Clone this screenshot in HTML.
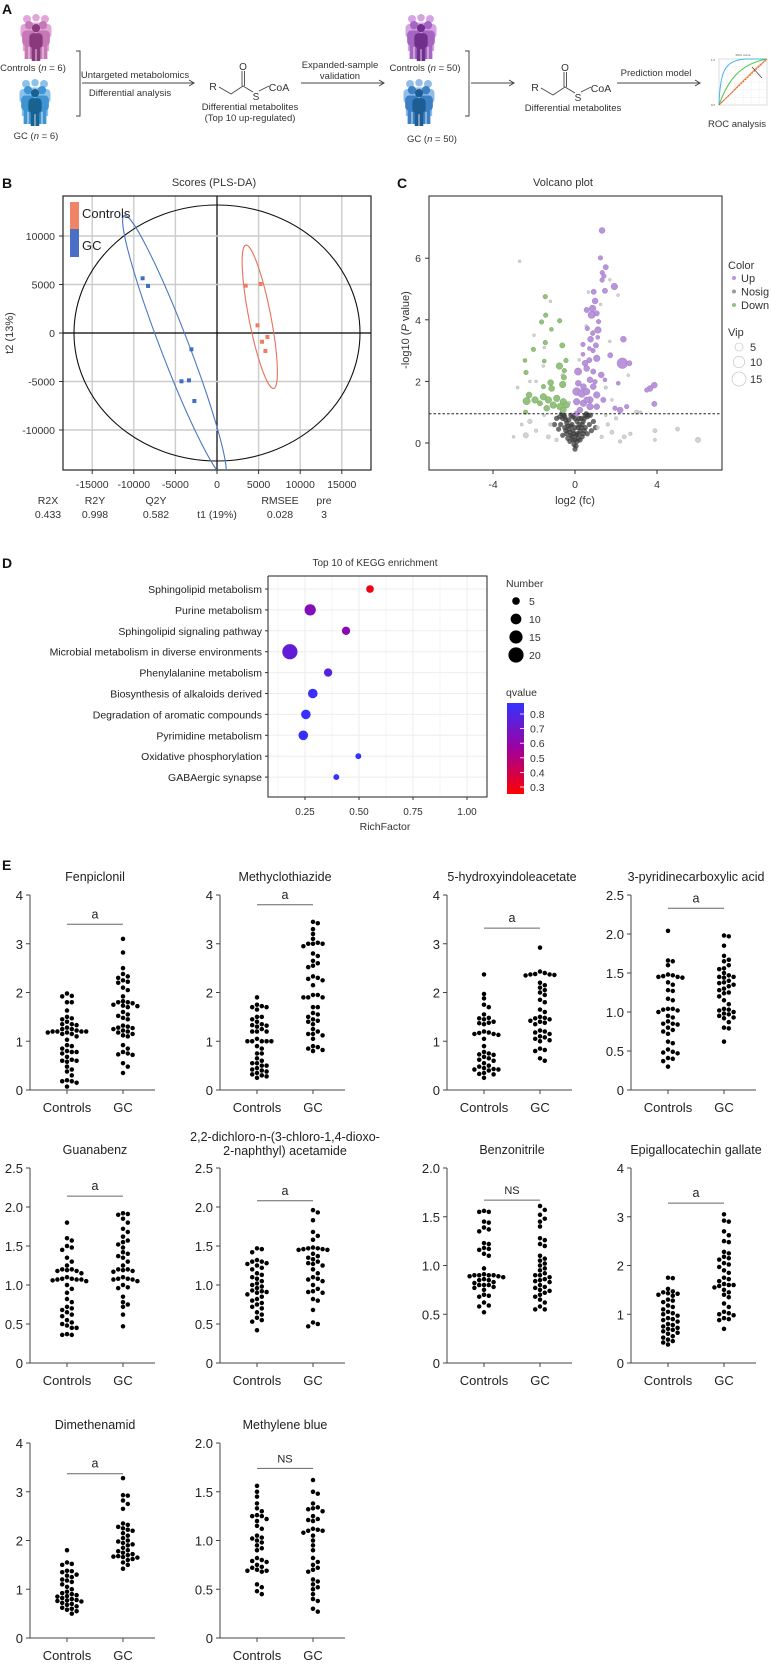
<!DOCTYPE html>
<html><head><meta charset="utf-8">
<style>
html,body{margin:0;padding:0;background:#fff;}
svg{display:block;font-family:"Liberation Sans",sans-serif;}
</style></head>
<body>
<svg id="fig" width="771" height="1665" viewBox="0 0 771 1665" xmlns="http://www.w3.org/2000/svg">
<defs>
<clipPath id="clipB"><rect x="63" y="196" width="308" height="274"/></clipPath>
<clipPath id="clipC"><rect x="429" y="196" width="293" height="274"/></clipPath>
<linearGradient id="qgrad" x1="0" y1="1" x2="0" y2="0">
<stop offset="0" stop-color="#ff0000"/><stop offset="0.5" stop-color="#a0009f"/><stop offset="1" stop-color="#3333ff"/>
</linearGradient>
</defs>
</svg>
<script>
// ===== Panel B data =====
const t1Ticks=[-15000,-10000,-5000,0,5000,10000,15000];
const t2Ticks=[-10000,-5000,0,5000,10000];
const controlsT1=[3450,5230,4870,6060,5410,5820];
const controlsT2=[4880,5050,790,-410,-900,-1860];
const gcT1=[-8940,-8290,-3080,-4270,-3370,-2720];
const gcT2=[5640,4850,-1680,-4980,-4880,-7010];
const statNames=["R2X","R2Y","Q2Y","RMSEE","pre"];
const statValues=["0.433","0.998","0.582","0.028","3"];
// ===== Panel C data =====
const volXTicks=[-4,0,4];
const volYTicks=[0,2,4,6];
const upX=[1.32,1.24,1.50,1.33,1.41,1.32,1.92,0.91,1.46,0.98,0.57,0.86,0.81,1.06,1.15,0.60,1.12,0.86,1.11,0.76,2.36,0.39,1.02,0.70,0.88,1.72,0.39,1.06,0.70,0.49,2.31,2.65,0.15,0.57,0.89,1.28,0.73,0.98,1.46,2.11,0.41,0.08,0.33,0.57,0.73,1.06,0.08,0.41,0.73,1.06,0.24,0.08,3.87,3.66,3.50,3.87,1.95,2.20,2.52,1.38,0.16,0.89,0.57];
const upY=[6.90,6.01,5.71,5.53,5.42,5.29,5.08,4.91,4.94,4.61,4.32,4.37,4.16,4.21,3.94,3.72,3.67,3.56,3.43,3.37,3.37,3.20,3.17,3.07,3.00,2.85,2.88,2.75,2.69,2.59,2.59,2.59,2.32,2.42,2.32,2.21,2.05,1.99,2.05,1.94,1.83,1.67,1.61,1.67,1.40,1.56,1.34,1.29,1.18,1.18,1.07,0.96,1.88,1.77,1.72,1.27,1.13,1.07,1.18,1.40,1.94,1.83,1.40];
const upVip=[4,2.4,3.2,2.4,2.4,2.4,4.9,3.2,3.2,4,3.2,4.9,6,3.2,2.4,2.4,4.9,2.4,1.8,4,4,2.4,3.2,1.8,2.4,3.2,1.8,4.9,3.2,4,12.6,3.2,6,4,3.2,4,4,2.4,1.8,1.8,4,7.1,7.1,4.9,4.9,4.9,4.9,4.9,4.9,4,4,3.2,4,4,2.4,3.2,2.4,4,2.4,3.2,4,4,4];
const downX=[-1.45,-1.43,-1.63,-0.75,-1.15,-1.45,-0.62,-2.03,-2.44,-1.50,-0.44,-0.76,-0.52,-2.39,-0.54,-1.19,-0.60,-1.54,-1.14,-2.24,-2.36,-1.95,-1.54,-1.30,-0.89,-0.57,-1.06,-0.73,-0.41,-1.71,-2.41,-1.38,-0.57];
const downY=[4.75,4.15,3.93,3.97,3.69,3.26,3.17,3.04,2.68,2.66,2.68,2.50,2.35,2.29,2.13,1.96,1.90,1.83,1.77,1.56,1.36,1.40,1.50,1.40,1.45,1.34,1.23,1.18,1.23,1.29,1.00,1.13,1.07];
const downVip=[2.4,2.4,2.4,2.4,1.8,2.4,3.2,2.4,1.8,1.8,2.4,4.9,2.4,2.4,3.2,4,4.9,2.4,4,4,6,4.9,4.9,4.9,4.9,4.9,4.9,4.9,4,3.2,2.4,4,4];
const nosigX=[0,0.05,-0.05,0.1,-0.1,0.15,-0.15,0.2,-0.2,0.25,-0.25,0.3,-0.3,0.35,-0.35,0.4,-0.4,0.45,-0.45,0.5,-0.5,0.55,-0.55,0.6,-0.6,0.65,-0.65,0.1,-0.1,0.2,-0.2,0.3,-0.3,0.15,-0.15,0.4,-0.4,0.5,-0.5,0.7,-0.7,0.8,-0.8,0.25,-0.25,0,0.05,-0.05,0.35,-0.35,0.9,-0.9,0.45,-0.45,0.6,-0.6,0.75,-0.75,1.0,-1.0,0.2,-0.2,0.1,-0.1,0,0,
-2.2,-2.4,-2.6,-3.0,-1.5,-1.9,-1.2,-1.3,1.6,1.8,2.0,2.4,2.7,3.0,3.9,3.9,5.0,6.0,1.3,1.1,-0.9,2.2,1.5,-2.7,-1.2,-2.0,-1.5,-1.55,2.1,1.7,1.25,0.65,0.55,1.7,2.6,-1.9,-2.2,1.8,0.9,-0.3,0.2,1.5,-0.6,3.2,-2.8];
const nosigY=[-0.2,-0.1,-0.05,0.05,0.1,0.15,0.2,0.3,0.25,0.4,0.35,0.5,0.45,0.6,0.55,0.7,0.65,0.8,0.75,0.9,0.85,0.95,0.9,0.85,0.8,0.9,0.95,0.3,0.4,0.6,0.55,0.8,0.75,0.5,0.6,0.3,0.3,0.5,0.5,0.6,0.6,0.4,0.45,0.1,0.05,0.1,0.25,0.3,0.2,0.15,0.7,0.8,0.4,0.4,0.3,0.25,0.9,0.85,0.5,0.6,0.8,0.9,0.7,0.85,0.5,0.8,
0.7,0.25,0.6,0.2,0.9,0.4,0.6,0.2,0.6,0.35,0.8,0.2,0.3,1.0,0.4,0.1,0.45,0.1,0.2,0.5,0.1,0.05,0.9,5.9,4.6,3.5,3.1,2.5,4.8,5.3,4.5,4.9,3.8,3.3,2.2,2.0,2.0,1.4,3.6,1.3,2.7,1.8,2.2,1.0,1.8];
const nosigVip=[0.5,0.5,0.5,0.5,0.5,0.5,0.5,0.5,0.5,0.5,0.5,0.5,0.5,0.5,0.5,0.5,0.5,0.5,0.5,0.5,0.5,0.5,0.5,0.5,0.5,0.5,0.5,0.5,0.5,0.5,0.5,0.5,0.5,0.5,0.5,0.5,0.5,0.5,0.5,0.5,0.5,0.5,0.5,0.5,0.5,0.5,0.5,0.5,0.5,0.5,0.5,0.5,0.5,0.5,0.5,0.5,0.5,0.5,0.5,0.5,0.5,0.5,0.5,0.5,0.5,0.5,
2.4,3.2,1.2,1,1,1.5,1.5,2,1.5,2,1.5,2,1.5,2.4,2,1.2,2,3.2,1.5,1.5,1.5,1.5,1,1,1,1,1,1,1,1,1,1,1,1,1,1,1,1,1.5,1.5,1,1.5,1.5,1,1.2];
const vipLegend=[5,10,15];
const colorLegend=["Up","Nosig","Down"];
// ===== Panel D data =====
const pathways=["Sphingolipid metabolism","Purine metabolism","Sphingolipid signaling pathway","Microbial metabolism in diverse environments","Phenylalanine metabolism","Biosynthesis of alkaloids derived","Degradation of aromatic compounds","Pyrimidine metabolism","Oxidative phosphorylation","GABAergic synapse"];
const richFactor=[0.551,0.274,0.44,0.18,0.357,0.286,0.254,0.242,0.497,0.395];
const pathNumber=[5,11,6,20,6,8,8,8,3,3];
const qvalue=[0.28,0.65,0.62,0.74,0.78,0.85,0.86,0.86,0.88,0.88];
const richTicks=[0.25,0.5,0.75,1.0];
const numberLegend=[5,10,15,20];
const qLegend=[0.3,0.4,0.5,0.6,0.7,0.8];
// ===== Panel E data =====
const metabNames=["Fenpiclonil","Methyclothiazide","5-hydroxyindoleacetate","3-pyridinecarboxylic acid","Guanabenz","2,2-dichloro-n-(3-chloro-1,4-dioxo-|2-naphthyl) acetamide","Benzonitrile","Epigallocatechin gallate","Dimethenamid","Methylene blue"];
const metabMax=[4,4,4,2.5,2.5,2.5,2,4,4,2];
const sigLabels=["a","a","a","a","a","a","NS","a","a","NS"];
const sigLevels=[3.4,3.8,3.32,2.33,2.14,2.08,1.67,3.28,3.37,1.74];
const groupNames=["Controls","GC"];
const ctrlVals=[
[1.98,1.93,1.92,1.8,1.8,1.63,1.5,1.47,1.45,1.4,1.35,1.35,1.33,1.28,1.25,1.25,1.22,1.2,1.2,1.2,1.2,1.18,1.18,1.15,1.15,1.1,1.03,0.92,0.9,0.85,0.8,0.78,0.78,0.75,0.68,0.62,0.6,0.6,0.58,0.48,0.42,0.38,0.3,0.2,0.18,0.18,0.15,0.07],
[1.9,1.75,1.72,1.7,1.7,1.65,1.5,1.5,1.45,1.4,1.35,1.33,1.32,1.3,1.25,1.2,1.2,1.2,1.05,1.0,1.0,1.0,1.0,1.0,0.9,0.85,0.75,0.75,0.65,0.6,0.55,0.55,0.5,0.5,0.45,0.42,0.4,0.38,0.35,0.32,0.3,0.28,0.25],
[2.37,1.97,1.88,1.75,1.7,1.55,1.48,1.47,1.45,1.4,1.38,1.37,1.35,1.2,1.18,1.17,1.15,1.15,1.13,1.05,0.9,0.78,0.75,0.73,0.72,0.68,0.65,0.62,0.6,0.55,0.5,0.48,0.45,0.43,0.42,0.42,0.4,0.35,0.33,0.32,0.25],
[2.04,1.66,1.65,1.6,1.48,1.47,1.46,1.45,1.45,1.44,1.38,1.35,1.28,1.27,1.17,1.15,1.04,1.04,1.03,1.02,1.0,0.95,0.93,0.88,0.85,0.85,0.84,0.8,0.77,0.75,0.72,0.62,0.6,0.52,0.49,0.48,0.47,0.41,0.4,0.37,0.3],
[1.8,1.6,1.57,1.5,1.48,1.45,1.35,1.3,1.25,1.2,1.2,1.19,1.18,1.18,1.15,1.1,1.08,1.08,1.07,1.07,1.07,1.06,1.05,1.0,0.95,0.9,0.82,0.78,0.72,0.7,0.68,0.65,0.62,0.6,0.55,0.52,0.5,0.48,0.45,0.45,0.37,0.36,0.36],
[1.47,1.46,1.42,1.32,1.3,1.3,1.28,1.27,1.25,1.22,1.2,1.15,1.13,1.1,1.08,1.05,1.02,1.0,0.98,0.96,0.93,0.92,0.91,0.9,0.88,0.85,0.82,0.8,0.77,0.75,0.72,0.7,0.65,0.62,0.58,0.55,0.53,0.42],
[1.56,1.55,1.55,1.45,1.44,1.39,1.37,1.35,1.23,1.22,1.18,1.17,1.16,1.12,1.1,0.97,0.91,0.9,0.9,0.9,0.9,0.89,0.89,0.88,0.86,0.85,0.85,0.83,0.82,0.8,0.8,0.8,0.78,0.77,0.75,0.7,0.69,0.68,0.62,0.59,0.58,0.52],
[1.75,1.74,1.52,1.47,1.45,1.43,1.42,1.4,1.38,1.3,1.28,1.25,1.18,1.15,1.1,1.05,1.02,1.0,0.97,0.92,0.9,0.88,0.85,0.8,0.78,0.75,0.72,0.7,0.68,0.65,0.62,0.6,0.55,0.52,0.48,0.45,0.42,0.38],
[1.8,1.55,1.52,1.5,1.38,1.37,1.35,1.3,1.28,1.25,1.2,1.18,1.15,1.1,1.05,1.0,0.95,0.92,0.9,0.88,0.86,0.85,0.82,0.8,0.78,0.77,0.76,0.75,0.72,0.7,0.68,0.65,0.62,0.6,0.58,0.55,0.5],
[1.56,1.5,1.45,1.38,1.33,1.3,1.26,1.25,1.25,1.22,1.2,1.15,1.12,1.05,1.03,1.02,1.0,0.98,0.95,0.92,0.9,0.82,0.8,0.79,0.78,0.75,0.73,0.72,0.7,0.69,0.69,0.68,0.55,0.52,0.48,0.45]];
const gcVals=[
[3.1,2.82,2.5,2.38,2.33,2.3,2.25,2.22,2.2,2.1,2.05,1.92,1.82,1.8,1.8,1.78,1.75,1.73,1.72,1.7,1.6,1.55,1.52,1.48,1.45,1.32,1.3,1.28,1.27,1.25,1.22,1.2,1.18,1.15,1.12,1.1,0.92,0.85,0.78,0.75,0.73,0.72,0.55,0.48,0.35],
[3.45,3.42,3.3,3.2,3.1,3.02,3.0,3.0,3.0,2.95,2.8,2.75,2.65,2.6,2.55,2.52,2.33,2.3,2.28,2.25,2.15,1.95,1.95,1.9,1.9,1.9,1.7,1.7,1.58,1.55,1.5,1.45,1.42,1.4,1.35,1.25,1.2,1.15,1.15,1.12,1.05,0.9,0.88,0.85,0.82,0.8],
[2.92,2.43,2.4,2.38,2.37,2.37,2.36,2.35,2.2,2.15,2.1,2.05,2.0,1.95,1.85,1.8,1.65,1.6,1.5,1.48,1.47,1.45,1.42,1.4,1.38,1.35,1.22,1.2,1.18,1.15,1.1,1.08,1.05,1.02,1.0,0.85,0.82,0.8,0.65,0.6],
[1.98,1.97,1.85,1.72,1.67,1.65,1.6,1.56,1.55,1.5,1.47,1.45,1.45,1.44,1.4,1.38,1.37,1.35,1.33,1.3,1.28,1.25,1.24,1.2,1.15,1.1,1.04,1.03,1.02,1.0,0.98,0.97,0.95,0.93,0.92,0.87,0.8,0.79,0.62],
[1.92,1.91,1.9,1.85,1.8,1.72,1.68,1.62,1.57,1.55,1.52,1.48,1.42,1.4,1.37,1.35,1.3,1.25,1.2,1.2,1.19,1.18,1.17,1.1,1.08,1.08,1.07,1.07,1.05,1.0,0.97,0.96,0.85,0.78,0.75,0.72,0.62,0.47],
[1.96,1.93,1.83,1.68,1.63,1.58,1.48,1.47,1.47,1.46,1.46,1.45,1.45,1.4,1.37,1.35,1.33,1.3,1.28,1.27,1.25,1.2,1.15,1.1,1.08,1.07,1.05,1.0,0.95,0.92,0.91,0.9,0.82,0.8,0.68,0.52,0.5,0.47],
[1.61,1.57,1.52,1.48,1.45,1.4,1.28,1.26,1.22,1.2,1.1,1.07,1.05,1.02,1.0,0.97,0.95,0.92,0.9,0.9,0.88,0.86,0.85,0.84,0.83,0.8,0.78,0.77,0.75,0.74,0.72,0.7,0.68,0.65,0.62,0.58,0.55,0.55],
[3.05,2.92,2.9,2.7,2.62,2.5,2.48,2.28,2.25,2.18,2.15,2.12,2.05,2.02,1.97,1.9,1.85,1.75,1.72,1.68,1.62,1.6,1.6,1.58,1.55,1.5,1.45,1.4,1.35,1.22,1.15,1.05,1.02,1.0,0.98,0.92,0.9,0.88,0.7],
[3.28,2.93,2.92,2.82,2.75,2.65,2.35,2.32,2.28,2.25,2.22,2.2,2.15,2.1,2.05,2.0,1.98,1.95,1.92,1.9,1.85,1.8,1.78,1.75,1.72,1.7,1.68,1.67,1.66,1.65,1.62,1.6,1.55,1.5,1.42],
[1.62,1.5,1.48,1.38,1.34,1.33,1.32,1.3,1.25,1.22,1.21,1.2,1.12,1.11,1.1,1.1,1.08,1.05,1.0,0.95,0.9,0.82,0.78,0.75,0.72,0.7,0.68,0.6,0.58,0.55,0.52,0.5,0.45,0.4,0.38,0.3,0.27]];

const NS="http://www.w3.org/2000/svg";
const svg=document.getElementById('fig');
function mk(tag,attrs,parent){const e=document.createElementNS(NS,tag);for(const k in attrs)e.setAttribute(k,attrs[k]);(parent||svg).appendChild(e);return e;}
function tx(x,y,s,size,anchor,parent,extra){const e=mk('text',Object.assign({x:x,y:y,'font-size':size,'text-anchor':anchor||'start',fill:'#222'},extra||{}),parent);e.textContent=s;return e;}
function grp(parent){return mk('g',{},parent);}

// ================= PANEL A =================
const gA=grp();


let e=tx(2,14,"A",14,'start',gA,{'font-weight':'bold',fill:'#111'});


function person(x,y,h,color,parent){
  const g=grp(parent);
  const w=h*0.36;
  mk('circle',{cx:x,cy:y+h*0.11,r:h*0.11,fill:color},g);
  mk('rect',{x:x-w/2,y:y+h*0.25,width:w,height:h*0.4,rx:w*0.3,fill:color},g);
  mk('rect',{x:x-w*0.32,y:y+h*0.55,width:w*0.64,height:h*0.45,fill:color},g);
  mk('line',{x1:x,y1:y+h*0.68,x2:x,y2:y+h,stroke:'#fff','stroke-width':0.8},g);
  return g;
}
function crowd(cx,top,cols,parent,name){
  const g=grp(parent);
  
  
  person(cx-9,top,36,cols[0],g);person(cx+9,top,36,cols[0],g);person(cx,top-1,34,cols[0],g);
  person(cx-7,top+6,38,cols[1],g);person(cx+7,top+6,38,cols[1],g);
  person(cx,top+9,37,cols[2],g);
}
crowd(36,15,['#e2a6d8','#c577b6','#8a3a7c'],gA,'controls-6-icon');
crowd(35,80,['#8cc2ea','#3f95d3','#17628f'],gA,'gc-6-icon');
crowd(421,15,['#d6a3e4','#a565c2','#6f2f8a'],gA,'controls-50-icon');
crowd(419,80,['#93bde6','#3b80c4','#1e5d93'],gA,'gc-50-icon');
function itxt(x,y,s,name,size){const t=tx(x,y,s,size||9.5,'middle',gA,{fill:'#333'});return t;}
function ital(x,y,pre,n,name){const t=mk('text',{x:x,y:y,'font-size':9.5,'text-anchor':'middle',fill:'#333'},gA);t.appendChild(document.createTextNode(pre+' ('));const s=mk('tspan',{'font-style':'italic'},t);s.textContent='n';t.appendChild(document.createTextNode(' = '+n+')'));}
ital(33,71,'Controls',6,'controls-n6-label');
ital(36,139,'GC',6,'gc-n6-label');
ital(425,71,'Controls',50,'controls-n50-label');
ital(432,142,'GC',50,'gc-n50-label');
function bracket(x,name){const p=mk('path',{d:`M${x-4} 51 H${x} V116 H${x-4}`,stroke:'#444',fill:'none','stroke-width':1},gA);}
bracket(80,'bracket-1');bracket(469,'bracket-2');
function arrow(x1,x2,y,name){const g=grp(gA);mk('line',{x1:x1,y1:y,x2:x2,y2:y,stroke:'#444','stroke-width':1},g);mk('path',{d:`M${x2-5} ${y-3} L${x2} ${y} L${x2-5} ${y+3}`,stroke:'#444',fill:'none','stroke-width':1},g);}
arrow(82,194,83,'arrow-untargeted');arrow(301,384,83,'arrow-validation');arrow(471,514,83,'arrow-to-metabolites');arrow(617,700,83,'arrow-prediction');
itxt(135,78,'Untargeted metabolomics','untargeted-label');
itxt(130,96,'Differential analysis','differential-analysis-label');
itxt(340,68,'Expanded-sample','expanded-sample-label');
itxt(340,79,'validation','validation-label');
itxt(656,76,'Prediction model','prediction-model-label');
function structure(dx,dy,name){
  const g=grp(gA);
  tx(213+dx,90+dy,'R',10.5,'middle',g,{fill:'#333'});
  mk('polyline',{points:`${219+dx},${87+dy} ${231+dx},${94+dy} ${243+dx},${86+dy} ${253+dx},${92+dy}`,fill:'none',stroke:'#444','stroke-width':0.9},g);
  mk('line',{x1:242+dx,y1:86+dy,x2:242+dx,y2:71+dy,stroke:'#444','stroke-width':0.9},g);
  mk('line',{x1:244.5+dx,y1:86+dy,x2:244.5+dx,y2:71+dy,stroke:'#444','stroke-width':0.9},g);
  tx(243+dx,70+dy,'O',10,'middle',g,{fill:'#333'});
  tx(256+dx,100+dy,'S',10,'middle',g,{fill:'#333'});
  mk('line',{x1:259+dx,y1:91+dy,x2:269+dx,y2:86+dy,stroke:'#444','stroke-width':0.9},g);
  tx(279+dx,91+dy,'CoA',10.5,'middle',g,{fill:'#333'});
}
structure(0,0,'acyl-coa-structure-1');structure(322,1,'acyl-coa-structure-2');
itxt(250,110,'Differential metabolites','differential-metabolites-label-1');
itxt(250,121,'(Top 10 up-regulated)','top10-label');
itxt(573,111,'Differential metabolites','differential-metabolites-label-2');
const gR=grp(gA);
mk('rect',{x:719,y:59,width:48,height:46,fill:'#fff',stroke:'#bbb','stroke-width':0.5},gR);
for(let i=1;i<6;i++){mk('line',{x1:719+i*8,y1:59,x2:719+i*8,y2:105,stroke:'#eee','stroke-width':0.5},gR);mk('line',{x1:719,y1:59+i*7.7,x2:767,y2:59+i*7.7,stroke:'#eee','stroke-width':0.5},gR);}
mk('path',{d:'M719 105 C720 70 725 61 745 59 L767 59',stroke:'#46b4ea',fill:'none','stroke-width':1},gR);
mk('path',{d:'M719 105 C728 80 740 64 767 59',stroke:'#4fc34f',fill:'none','stroke-width':1},gR);
mk('path',{d:'M719 105 C735 90 752 70 767 59',stroke:'#f2a23a',fill:'none','stroke-width':1},gR);
mk('line',{x1:719,y1:105,x2:767,y2:59,stroke:'#e04040','stroke-width':0.8,'stroke-dasharray':'2,1'},gR);
mk('line',{x1:752,y1:67,x2:762,y2:78,stroke:'#333','stroke-width':0.6},gR);
tx(743,56,'ROC curve',3,'middle',gR,{fill:'#555'});
tx(715,61,'1.0',3,'end',gR,{fill:'#555'});
tx(715,106,'0.0',3,'end',gR,{fill:'#555'});
itxt(737,127,'ROC analysis','roc-analysis-label');

// ================= PANEL B =================
const gB=grp();
e=tx(2,188,"B",14,'start',gB,{'font-weight':'bold',fill:'#111'});
e=tx(214,186,"Scores (PLS-DA)",11,'middle',gB,{fill:'#333'});
const bx=v=>217+v*41.6/5000, by=v=>333-v*48.5/5000;
t1Ticks.forEach(v=>{const l=mk('line',{x1:bx(v),y1:196,x2:bx(v),y2:470,stroke:v===0?'#000':'#ccc','stroke-width':v===0?1.2:1.4},gB);
 mk('line',{x1:bx(v),y1:470,x2:bx(v),y2:474,stroke:'#333'},gB);
 const t=tx(bx(v),488,String(v),10.5,'middle',gB,{fill:'#333'});});
t2Ticks.forEach(v=>{const l=mk('line',{x1:63,y1:by(v),x2:371,y2:by(v),stroke:v===0?'#000':'#ccc','stroke-width':v===0?1.2:1.4},gB);
 mk('line',{x1:59,y1:by(v),x2:63,y2:by(v),stroke:'#333'},gB);
 const t=tx(55,by(v)+4,String(v),10.5,'end',gB,{fill:'#333'});});
e=mk('rect',{x:63,y:196,width:308,height:274,fill:'none',stroke:'#222','stroke-width':1.2},gB);
const gBc=mk('g',{'clip-path':'url(#clipB)'},gB);
e=mk('ellipse',{cx:bx(0),cy:by(0),rx:143,ry:128,fill:'none',stroke:'#111','stroke-width':1.1},gBc);
function mean(a){return a.reduce((s,v)=>s+v,0)/a.length;}
e=mk('ellipse',{cx:0,cy:0,rx:140,ry:14,fill:'none',stroke:'#4a78c2','stroke-width':1.1,transform:`translate(${bx(mean(gcT1))},${by(mean(gcT2))}) rotate(69)`},gBc);
e=mk('ellipse',{cx:0,cy:0,rx:73,ry:11,fill:'none',stroke:'#e8705a','stroke-width':1.1,transform:`translate(${bx(mean(controlsT1))},${by(mean(controlsT2))-4}) rotate(79)`},gBc);
controlsT1.forEach((v,i)=>{const r=mk('rect',{x:bx(v)-2,y:by(controlsT2[i])-2,width:4,height:4,fill:'#ee7b63'},gB);});
gcT1.forEach((v,i)=>{const r=mk('rect',{x:bx(v)-2,y:by(gcT2[i])-2,width:4,height:4,fill:'#3d6fc0'},gB);});
e=mk('rect',{x:70,y:202,width:9,height:27,fill:'#f08466'},gB);
e=mk('rect',{x:70,y:229,width:9,height:28,fill:'#4a6fc4'},gB);
e=tx(82,218,'Controls',13,'start',gB,{fill:'#222'});
e=tx(82,250,'GC',13,'start',gB,{fill:'#222'});
e=tx(0,0,'t2 (13%)',11,'middle',gB,{fill:'#333',transform:'translate(13,333) rotate(-90)'});
const statX=[48,95,156,280,324];
statNames.forEach((n,i)=>{let t=tx(statX[i],504,n,10.5,'middle',gB,{fill:'#333'});
 t=tx(statX[i],518,statValues[i],10.5,'middle',gB,{fill:'#333'});});
e=tx(217,518,'t1 (19%)',10.5,'middle',gB,{fill:'#333'});

// ================= PANEL C =================
const gC=grp();
e=tx(397,188,"C",14,'start',gC,{'font-weight':'bold',fill:'#111'});
e=tx(563,186,"Volcano plot",11,'middle',gC,{fill:'#333'});
const cx=v=>575+v*20.5, cy=v=>443-v*30.8;
const gCc=mk('g',{'clip-path':'url(#clipC)'},gC);
const rv=v=>Math.max(1.1,1.5*Math.sqrt(v));
nosigX.forEach((v,i)=>{const dark=nosigVip[i]<1;const c=mk('circle',{cx:cx(v),cy:cy(nosigY[i]),r:dark?2.6:rv(nosigVip[i]),fill:dark?'rgba(60,60,60,0.75)':'rgba(200,200,200,0.8)',stroke:dark?'none':'#aaa','stroke-width':0.4},gCc);});
downX.forEach((v,i)=>{const c=mk('circle',{cx:cx(v),cy:cy(downY[i]),r:rv(downVip[i]),fill:'#92c27c',stroke:'#6f9f5c','stroke-width':0.4},gCc);});
upX.forEach((v,i)=>{const c=mk('circle',{cx:cx(v),cy:cy(upY[i]),r:rv(upVip[i]),fill:'#b994da',stroke:'#9b75c2','stroke-width':0.4},gCc);});
e=mk('line',{x1:429,y1:cy(0.95),x2:722,y2:cy(0.95),stroke:'#222','stroke-width':0.9,'stroke-dasharray':'2.5,2'},gC);
e=mk('rect',{x:429,y:196,width:293,height:274,fill:'none',stroke:'#222','stroke-width':1},gC);
volXTicks.forEach(v=>{mk('line',{x1:cx(v),y1:470,x2:cx(v),y2:474,stroke:'#333'},gC);const t=tx(cx(v),488,String(v),10.5,'middle',gC,{fill:'#333'});});
volYTicks.forEach(v=>{mk('line',{x1:425,y1:cy(v),x2:429,y2:cy(v),stroke:'#333'},gC);const t=tx(421,cy(v)+4,String(v),10.5,'end',gC,{fill:'#333'});});
e=tx(575,504,'log2 (fc)',11,'middle',gC,{fill:'#333'});
e=mk('text',{x:0,y:0,'font-size':11,'text-anchor':'middle',fill:'#333',transform:'translate(409,330) rotate(-90)'},gC);
e.appendChild(document.createTextNode('-log10 ('));let ts=mk('tspan',{'font-style':'italic'},e);ts.textContent='P';e.appendChild(document.createTextNode(' value)'));
e=tx(728,269,'Color',11,'start',gC,{fill:'#333'});
const legCols=['#b994da','#9a9a9a','#92c27c'];
colorLegend.forEach((n,i)=>{const y=278+i*13.5;const c=mk('circle',{cx:734,cy:y,r:2,fill:legCols[i]},gC);const t=tx(741,y+4,n,11,'start',gC,{fill:'#333'});});
e=tx(728,336,'Vip',11,'start',gC,{fill:'#333'});
const vipY=[347,362,379];
vipLegend.forEach((v,i)=>{const c=mk('circle',{cx:739,cy:vipY[i],r:rv(v)*1.2,fill:'none',stroke:'#ccc','stroke-width':0.8},gC);const t=tx(750,vipY[i]+4,String(v),11,'start',gC,{fill:'#333'});});

// ================= PANEL D =================
const gD=grp();
e=tx(2,568,"D",14,'start',gD,{'font-weight':'bold',fill:'#111'});
e=tx(375,566,"Top 10 of KEGG enrichment",10,'middle',gD,{fill:'#333'});
const dx=v=>251+v*216, dy=i=>589+i*20.9;
function qColor(q){let t=(q-0.25)/(0.875-0.25);t=Math.max(0,Math.min(1,t));let r,g,b;if(t<0.5){const u=t/0.5;r=255-95*u;g=0;b=159*u;}else{const u=(t-0.5)/0.5;r=160-109*u;g=51*u;b=159+96*u;}return `rgb(${r|0},${g|0},${b|0})`;}
for(let v=0.125;v<=1.1;v+=0.125){mk('line',{x1:dx(v),y1:576,x2:dx(v),y2:797,stroke:'#eee','stroke-width':v%0.25===0?1:0.6},gD);}
pathways.forEach((p,i)=>{mk('line',{x1:268,y1:dy(i),x2:487,y2:dy(i),stroke:'#eee','stroke-width':1},gD);mk('line',{x1:265,y1:dy(i),x2:268,y2:dy(i),stroke:'#333'},gD);const t=tx(262,dy(i)+4,p,10.5,'end',gD,{fill:'#222'});});
e=mk('polyline',{points:'268,576 268,797 487,797 487,576 268,576',fill:'none',stroke:'#222','stroke-width':1},gD);
pathways.forEach((p,i)=>{const c=mk('circle',{cx:dx(richFactor[i]),cy:dy(i),r:1.7*Math.sqrt(pathNumber[i]),fill:qColor(qvalue[i])},gD);});
richTicks.forEach(v=>{mk('line',{x1:dx(v),y1:797,x2:dx(v),y2:800,stroke:'#333'},gD);const t=tx(dx(v),815,v.toFixed(2),10,'middle',gD,{fill:'#333'});});
e=tx(385,830,'RichFactor',10.5,'middle',gD,{fill:'#333'});
e=tx(506,587,'Number',10.5,'start',gD,{fill:'#333'});
numberLegend.forEach((n,i)=>{const y=601+i*18;const c=mk('circle',{cx:516,cy:y,r:1.7*Math.sqrt(n),fill:'#000'},gD);const t=tx(529,y+4,String(n),10.5,'start',gD,{fill:'#333'});});
e=tx(506,696,'qvalue',10.5,'start',gD,{fill:'#333'});
e=mk('rect',{x:507,y:703,width:17,height:91,fill:'url(#qgrad)'},gD);
const qy=q=>787-(q-0.3)*146;
qLegend.forEach(q=>{mk('line',{x1:520,y1:qy(q),x2:524,y2:qy(q),stroke:'#fff','stroke-width':0.8},gD);const t=tx(530,qy(q)+4,q.toFixed(1),10.5,'start',gD,{fill:'#333'});});

// ================= PANEL E =================
const gE=grp();
e=tx(2,870,"E",14,'start',gE,{'font-weight':'bold',fill:'#111'});
const colX=[30,220,447,631], rowTop=[895,1168,1443], AH=195, AW=125, CO=37, GO=93, DOT=4.8;
function swarm(vals,center,ys,parent,name){
  const placed=[];
  const sorted=vals.slice().sort((a,b)=>b-a);
  sorted.forEach(v=>{const py=ys(v);let px=center;
    for(let k=0;k<40;k++){const off=(k===0?0:(k%2===1?1:-1)*Math.ceil(k/2)*DOT);const cand=center+off;
      if(placed.every(p=>Math.hypot(p[0]-cand,p[1]-py)>=DOT*0.85)){px=cand;break;}}
    placed.push([px,py]);
    const c=mk('circle',{cx:px,cy:py,r:2.25,fill:'#000'},parent);
    
    
  });
}
metabNames.forEach((nm,p)=>{
  const col=p%4,row=Math.floor(p/4);const ax=colX[col],top=rowTop[row],bot=top+AH,mx=metabMax[p];
  const g=grp(gE);
  
  
  const ys=v=>bot-v/mx*AH;
  const lines=nm.split('|');
  lines.forEach((ln,j)=>{const t=tx(ax+65,top-(lines.length===1?14:27)+j*14,ln,12.5,'middle',g,{fill:'#222'});});
  const axl=mk('path',{d:`M${ax} ${top} V${bot} H${ax+AW}`,fill:'none',stroke:'#444','stroke-width':1},g);
  
  
  const step=mx<=2.5?0.5:1;
  for(let v=0;v<=mx+1e-9;v+=step){mk('line',{x1:ax-4,y1:ys(v),x2:ax,y2:ys(v),stroke:'#444'},g);const t=tx(ax-7,ys(v)+5,v===0?'0':(mx<=2.5?v.toFixed(1):String(v)),13,'end',g,{fill:'#222'});}
  [CO,GO].forEach((o,j)=>{mk('line',{x1:ax+o,y1:bot,x2:ax+o,y2:bot+4,stroke:'#444'},g);const t=tx(ax+o,bot+22,groupNames[j],13,'middle',g,{fill:'#222'});});
  swarm(ctrlVals[p],ax+CO,ys,g,'controls-dot');
  swarm(gcVals[p],ax+GO,ys,g,'gc-dot');
  const sl=mk('line',{x1:ax+CO,y1:ys(sigLevels[p]),x2:ax+GO,y2:ys(sigLevels[p]),stroke:'#666','stroke-width':1},g);
  
  
  const st=tx(ax+(CO+GO)/2,ys(sigLevels[p])-6,sigLabels[p],sigLabels[p]==='NS'?11:12.5,'middle',g,{fill:'#222'});
  
  
});
</script>
</body></html>
